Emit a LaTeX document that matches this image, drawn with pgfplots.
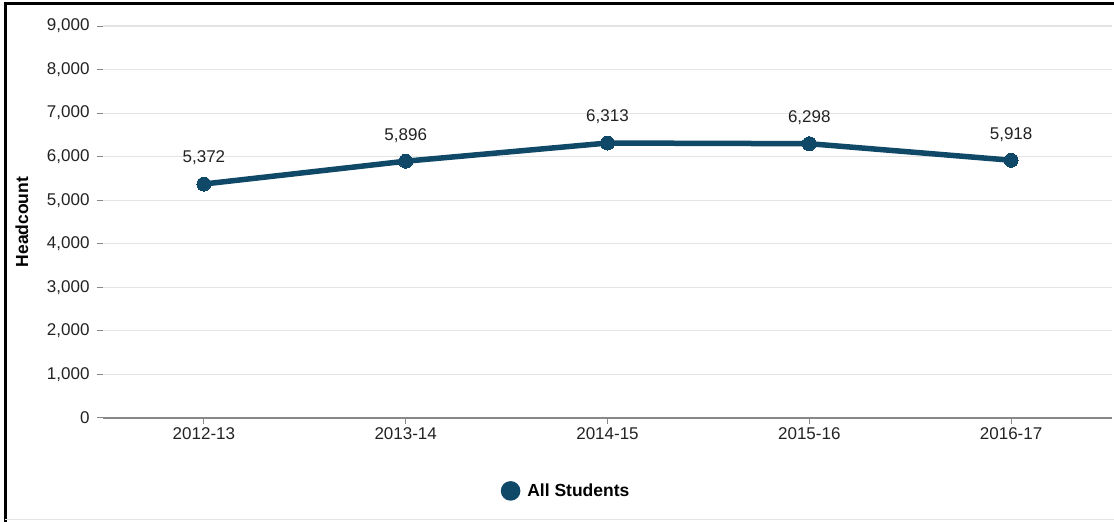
\documentclass[border=0pt]{standalone}
\usepackage{fontspec}
\setmainfont{Liberation Sans}
\usepackage{pgfplots}
\pgfplotsset{compat=1.18}
\definecolor{linecol}{RGB}{16,72,104}
\definecolor{gridcol}{RGB}{228,228,228}
\definecolor{axcol}{RGB}{136,136,136}
\definecolor{txtcol}{RGB}{34,34,34}
\begin{document}
\begin{tikzpicture}[x=1pt,y=1pt,font=\fontsize{17}{20}\selectfont]
\useasboundingbox (0,0) rectangle (1114,522);
\draw[black, line width=3pt] (5,0) -- (5,518) -- (1114,518);
\draw[gridcol, line width=1pt] (5,2) -- (1114,2);
\begin{axis}[
  at={(103pt,104pt)}, anchor=south west, scale only axis,
  width=1009pt, height=392pt,
  xmin=-0.5, xmax=4.5, ymin=0, ymax=9000,
  xtick={0,1,2,3,4},
  xticklabels={2012-13,2013-14,2014-15,2015-16,2016-17},
  ytick={0,1000,...,9000},
  /pgf/number format/1000 sep={,},
  /pgf/number format/assume math mode=true,
  ymajorgrids, grid style={gridcol, line width=1.2pt},
  axis line style={draw=none},
  xtick pos=bottom, ytick pos=left,
  tick align=outside, major tick length=6pt,
  tick style={axcol, line width=1pt},
  ticklabel style={text=txtcol, font=\fontsize{17}{20}\selectfont},
  yticklabel style={xshift=-4pt},
  ylabel={Headcount},
  ylabel style={at={(axis description cs:-0.0803,0.5)}, anchor=center, font=\fontsize{17.5}{20}\selectfont\bfseries, text=black},
  legend style={draw=none, at={(0.459,-0.186)}, anchor=center, font=\fontsize{17.5}{20}\selectfont\bfseries, text=black},
  legend image code/.code={\fill[linecol] (0pt,0pt) circle (7pt); \path (12pt,0pt);},
  clip=false,
]
\draw[axcol, line width=1.3pt] (rel axis cs:0,0) -- (rel axis cs:1,0);
\addplot[color=linecol, line width=5.5pt, mark=*, mark size=7pt,
  mark options={fill=linecol, line width=0pt},
  nodes near coords, point meta=y,
  every node near coord/.append style={anchor=center, yshift=26pt, text=txtcol, font=\fontsize{17}{20}\selectfont}]
  coordinates {(0,5372) (1,5896) (2,6313) (3,6298) (4,5918)};
\addlegendentry{All Students}
\end{axis}
\end{tikzpicture}
\end{document}
